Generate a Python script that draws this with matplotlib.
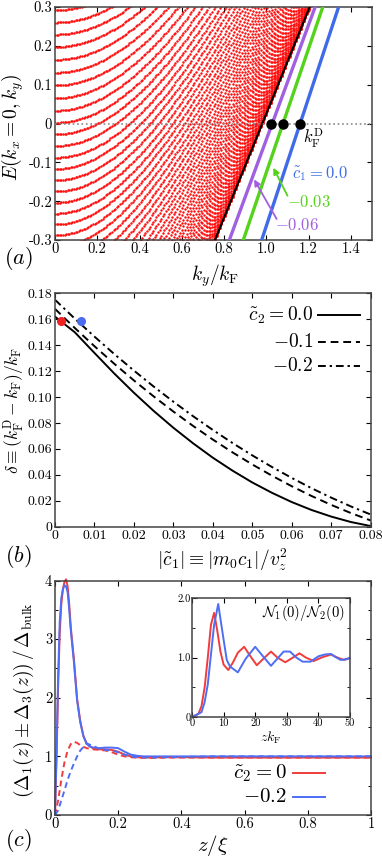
import numpy as np
import matplotlib
matplotlib.use('Agg')
import matplotlib.pyplot as plt
from matplotlib.ticker import MultipleLocator

plt.rcParams['mathtext.fontset'] = 'cm'
plt.rcParams['font.family'] = ['cmr10', 'DejaVu Serif']
plt.rcParams['axes.unicode_minus'] = False
plt.rcParams['axes.formatter.use_mathtext'] = True

# ---------------- panel (a) data ----------------
band_E0 = [0.292, 0.260, 0.229, 0.197, 0.164, 0.131, 0.098, 0.065, 0.033, 0.002,
           -0.028, -0.058, -0.088, -0.117, -0.146, -0.175, -0.204, -0.232, -0.260, -0.288,
           -0.316, -0.344, -0.372, -0.400, -0.428, -0.456, -0.484, -0.512, -0.540, -0.568,
           -0.596, -0.624, -0.652, -0.680, -0.708, -0.736, -0.764, -0.792, -0.820, -0.848,
           -0.876, -0.904, -0.932, -0.960, -0.988, -1.016, -1.044, -1.072, -1.100, -1.128,
           -1.156, -1.184, -1.212, -1.240, -1.268, -1.296]
band_velocity = 1.339
band_mu = 1.314
ky_samples = np.linspace(0.0, 1.5, 201)
edge_ky = [0.757, 1.205]
edge_E = [-0.3, 0.3]
surf_E = [-0.3, 0.3]
surf_labels = [r'$\tilde{c}_1=0.0$', r'$-0.03$', r'$-0.06$']
surf_ky = [[0.978, 1.342], [0.891, 1.267], [0.825, 1.231]]
surf_colors = ['#3f6be8', '#55d21c', '#a060e0']
dirac_kF = [1.02, 1.08, 1.16]
a_xticks = [0, 0.2, 0.4, 0.6, 0.8, 1.0, 1.2, 1.4]
a_xticklabels = ['0', '0.2', '0.4', '0.6', '0.8', '1.0', '1.2', '1.4']
a_yticks = [0.3, 0.2, 0.1, 0, -0.1, -0.2, -0.3]
a_yticklabels = ['0.3', '0.2', '0.1', '0', '-0.1', '-0.2', '-0.3']

# ---------------- panel (b) data ----------------
c1_abs = [0, 0.005, 0.01, 0.015, 0.02, 0.025, 0.03, 0.035, 0.04, 0.045, 0.05,
          0.055, 0.06, 0.065, 0.07, 0.075, 0.08]
delta_c2_00 = [0.162, 0.150, 0.134, 0.1182, 0.1033, 0.0893, 0.0763, 0.0643, 0.0532,
               0.0432, 0.0341, 0.0261, 0.0190, 0.0129, 0.0078, 0.0036, 0.0005]
delta_c2_01 = [0.168, 0.1533, 0.1392, 0.1257, 0.1128, 0.1005, 0.0888, 0.0777, 0.0672,
               0.0573, 0.0480, 0.0393, 0.0312, 0.0237, 0.0168, 0.0105, 0.0048]
delta_c2_02 = [0.175, 0.1605, 0.1466, 0.1332, 0.1204, 0.1081, 0.0964, 0.0852, 0.0746,
               0.0645, 0.0550, 0.0460, 0.0376, 0.0297, 0.0224, 0.0156, 0.0094]
b_dots_x = [0.0015, 0.0066]
b_dots_y = [0.159, 0.159]
b_dots_c = ['#ee2222', '#4a6cf0']
b_xticks = [0, 0.01, 0.02, 0.03, 0.04, 0.05, 0.06, 0.07, 0.08]
b_xticklabels = ['0', '0.01', '0.02', '0.03', '0.04', '0.05', '0.06', '0.07', '0.08']
b_yticks = [0, 0.02, 0.04, 0.06, 0.08, 0.10, 0.12, 0.14, 0.16, 0.18]
b_yticklabels = ['0', '0.02', '0.04', '0.06', '0.08', '0.10', '0.12', '0.14', '0.16', '0.18']
b_legend = [r'$\tilde{c}_2=0.0$', r'$-0.1$', r'$-0.2$']

# ---------------- panel (c) data ----------------
z_solid = [0, 0.005, 0.01, 0.015, 0.02, 0.025, 0.03, 0.035, 0.04, 0.045, 0.05, 0.06,
           0.07, 0.08, 0.09, 0.10, 0.11, 0.12, 0.14, 0.16, 0.18, 0.20, 0.22, 0.24,
           0.26, 0.28, 0.30, 0.35, 0.40, 0.50, 0.60, 0.70, 0.80, 0.90, 1.00]
sum_red = [0, 1.0, 2.2, 3.1, 3.6, 3.85, 3.98, 4.02, 3.9, 3.6, 3.2, 2.65, 1.98, 1.6,
           1.35, 1.22, 1.17, 1.14, 1.12, 1.12, 1.11, 1.08, 1.03, 1.0, 0.985, 0.98,
           0.98, 0.985, 0.985, 0.98, 0.98, 0.98, 0.98, 0.98, 0.98]
sum_blue = [0, 1.1, 2.4, 3.3, 3.7, 3.85, 3.92, 3.9, 3.8, 3.5, 3.15, 2.6, 1.95, 1.58,
            1.34, 1.22, 1.17, 1.15, 1.14, 1.15, 1.15, 1.14, 1.08, 1.03, 1.01, 1.0,
            1.0, 1.0, 1.0, 1.0, 1.0, 1.0, 1.0, 1.0, 1.0]
z_dash = [0, 0.01, 0.02, 0.03, 0.04, 0.05, 0.06, 0.07, 0.08, 0.10, 0.12, 0.14, 0.16,
          0.18, 0.20, 0.22, 0.25, 0.30, 0.35, 0.40, 0.50, 0.60, 0.70, 0.80, 0.90, 1.00]
diff_red = [0, 0.25, 0.6, 0.9, 1.1, 1.21, 1.25, 1.23, 1.19, 1.14, 1.12, 1.11, 1.1,
            1.07, 1.03, 1.0, 0.98, 0.975, 0.98, 0.98, 0.98, 0.98, 0.98, 0.98, 0.98, 0.98]
diff_blue = [0, 0.08, 0.25, 0.42, 0.6, 0.75, 0.88, 1.0, 1.1, 1.22, 1.18, 1.13, 1.11,
             1.1, 1.07, 1.03, 0.99, 0.98, 0.985, 0.99, 1.0, 1.0, 1.0, 1.0, 1.0, 1.0]
c_colors = ['#f03c3c', '#4d6ef5']
c_legend = [r'$\tilde{c}_2=0$', r'$-0.2$']
c_xticks = [0, 0.2, 0.4, 0.6, 0.8, 1.0]
c_xticklabels = ['0', '0.2', '0.4', '0.6', '0.8', '1']
c_yticks = [0, 1, 2, 3, 4]
c_yticklabels = ['0', '1', '2', '3', '4']

# inset
ins_x_red = [0, 2, 3, 4, 5, 6, 7, 8, 9, 10, 11.5, 13, 14.5, 16.5, 18.5, 20.5, 23, 25,
             27, 29.5, 32, 34, 36, 38.5, 41, 44, 46, 48, 50]
ins_y_red = [0, 0.05, 0.18, 0.5, 1.0, 1.55, 1.75, 1.45, 1.1, 0.88, 0.79, 0.92, 1.08,
             1.18, 1.02, 0.87, 1.0, 1.1, 1.0, 0.92, 1.0, 1.07, 1.0, 0.94, 1.0, 1.05,
             1.0, 0.96, 0.99]
ins_x_blue = [0, 3, 4, 5, 6, 7, 8.3, 9, 10, 11, 12, 14.5, 17, 20, 22, 25, 27, 29, 31,
              33, 35, 37.5, 40, 42, 44, 45, 47, 49, 50]
ins_y_blue = [0, 0.08, 0.25, 0.55, 1.05, 1.55, 1.9, 1.65, 1.3, 0.96, 0.85, 0.75, 0.98,
              1.18, 1.05, 0.86, 0.98, 1.1, 1.1, 1.0, 0.93, 0.93, 1.02, 1.05, 1.06,
              1.02, 0.96, 0.97, 1.0]
ins_xticks = [0, 10, 20, 30, 40, 50]
ins_xticklabels = ['0', '10', '20', '30', '40', '50']
ins_yticks = [0, 1.0, 2.0]
ins_yticklabels = ['0', '1.0', '2.0']

# ---------------- figure ----------------
W, H = 382, 860
fig = plt.figure(figsize=(W / 100, H / 100), dpi=100)


def rect(l, t, r, b):
    return [l / W, 1 - b / H, (r - l) / W, (b - t) / H]


spine_c = '#444444'


def style(ax, fs=10.5):
    for s in ax.spines.values():
        s.set_color(spine_c)
        s.set_linewidth(1.1)
    ax.tick_params(direction='in', top=True, right=True, length=3.5, width=0.8,
                   labelsize=fs, colors='black', pad=2)


# ---- (a)
axa = fig.add_axes(rect(55, 7, 372, 240))
for e0 in band_E0:
    E = np.sqrt((e0 + band_mu) ** 2 + (band_velocity * ky_samples) ** 2) - band_mu
    m = E <= 0.31
    axa.plot(ky_samples[m], E[m], ls='none', marker='o', ms=1.75, mew=0,
             color='#ff0d0d', zorder=2)
axa.plot(edge_ky, edge_E, color='black', lw=1.5, zorder=3)
for kys, c in zip(surf_ky, surf_colors):
    axa.plot(kys, surf_E, color=c, lw=2.4, zorder=3)
axa.axhline(0, color='#888888', ls=':', lw=1.2, zorder=4)
axa.plot(dirac_kF, [0] * len(dirac_kF), ls='none', marker='o', ms=6.5,
         color='black', zorder=5)
axa.set_xlim(0, 1.5)
axa.set_ylim(-0.3, 0.3)
axa.set_xticks(a_xticks)
axa.set_xticklabels(a_xticklabels)
axa.set_yticks(a_yticks)
axa.set_yticklabels(a_yticklabels)
style(axa)
axa.text(1.175, -0.038, r'$k_{\rm F}^{\rm D}$', fontsize=12, va='center', ha='left')
axa.text(1.12, -0.129, surf_labels[0], color=surf_colors[0], fontsize=12, va='center')
axa.text(1.10, -0.202, surf_labels[1], color=surf_colors[1], fontsize=12, va='center')
axa.text(1.04, -0.262, surf_labels[2], color=surf_colors[2], fontsize=12, va='center')
axa.annotate('', xy=(1.033, -0.114), xytext=(1.10, -0.186),
             arrowprops=dict(arrowstyle='-|>', color=surf_colors[1], lw=1.3,
                             mutation_scale=9, shrinkA=0, shrinkB=0))
axa.annotate('', xy=(0.942, -0.144), xytext=(1.049, -0.246),
             arrowprops=dict(arrowstyle='-|>', color=surf_colors[2], lw=1.3,
                             mutation_scale=9, shrinkA=0, shrinkB=0))
axa.set_xlabel(r'$k_y/k_{\rm F}$', fontsize=14)
axa.xaxis.set_label_coords(0.505, -0.095)
axa.set_ylabel(r'$E(k_x=0,k_y)$', fontsize=14)
axa.yaxis.set_label_coords(-0.09, 0.485)
fig.text(0.047, 1 - 258 / H, r'$(a)$', fontsize=16, ha='center', va='center')

# ---- (b)
axb = fig.add_axes(rect(55, 293.3, 370.7, 526.7))
axb.plot(c1_abs, delta_c2_00, color='black', lw=1.4, ls='-')
axb.plot(c1_abs, delta_c2_01, color='black', lw=1.4, ls=(0, (4, 2.5)))
axb.plot(c1_abs, delta_c2_02, color='black', lw=1.4, ls=(0, (4, 2, 1.2, 2)))
for x, y, c in zip(b_dots_x, b_dots_y, b_dots_c):
    axb.plot([x], [y], ls='none', marker='o', ms=5.5, color=c, zorder=5, clip_on=False)
axb.set_xlim(0, 0.08)
axb.set_ylim(0, 0.18)
axb.set_xticks(b_xticks)
axb.set_xticklabels(b_xticklabels)
axb.set_yticks(b_yticks)
axb.set_yticklabels(b_yticklabels)
style(axb, fs=10)
b_styles = ['-', (0, (4, 2.5)), (0, (4, 2, 1.2, 2))]
for i, (lab, st) in enumerate(zip(b_legend, b_styles)):
    yy = [0.907, 0.793, 0.688][i]
    axb.text(0.818, yy, lab, transform=axb.transAxes, ha='right', va='center', fontsize=14)
    axb.plot([0.833, 0.966], [yy, yy], transform=axb.transAxes, color='black', lw=1.4, ls=st)
axb.set_xlabel(r'$|\tilde{c}_1| \equiv |m_0 c_1|/v_z^2$', fontsize=14)
axb.xaxis.set_label_coords(0.53, -0.085)
axb.set_ylabel(r'$\delta \equiv (k_{\rm F}^{\rm D}-k_{\rm F})/k_{\rm F}$', fontsize=12.5)
axb.yaxis.set_label_coords(-0.088, 0.5)
fig.text(0.047, 1 - 557 / H, r'$(b)$', fontsize=16, ha='center', va='center')

# ---- (c)
axc = fig.add_axes(rect(55, 580.5, 371, 815))
axc.plot(z_solid, sum_red, color=c_colors[0], lw=1.4, clip_on=False)
axc.plot(z_solid, sum_blue, color=c_colors[1], lw=1.4, clip_on=False)
axc.plot(z_dash, diff_red, color=c_colors[0], lw=1.4, ls=(0, (3, 2)))
axc.plot(z_dash, diff_blue, color=c_colors[1], lw=1.4, ls=(0, (3, 2)))
axc.set_xlim(0, 1)
axc.set_ylim(0, 4)
axc.set_xticks(c_xticks)
axc.set_xticklabels(c_xticklabels)
axc.set_yticks(c_yticks)
axc.set_yticklabels(c_yticklabels)
axc.yaxis.set_minor_locator(MultipleLocator(0.5))
style(axc)
axc.tick_params(which='minor', direction='in', right=True, length=2.5, width=0.7)
for i, (lab, c) in enumerate(zip(c_legend, c_colors)):
    yy = [0.179, 0.077][i]
    axc.text(0.734, yy, lab, transform=axc.transAxes, ha='right', va='center', fontsize=15)
    axc.plot([0.753, 0.854], [yy, yy], transform=axc.transAxes, color=c, lw=1.4)
axc.set_xlabel(r'$z/\xi$', fontsize=15)
axc.xaxis.set_label_coords(0.5, -0.075)
axc.set_ylabel(r'$(\Delta_1(z)\pm\Delta_3(z))\,/\,\Delta_{\rm bulk}$', fontsize=14)
axc.yaxis.set_label_coords(-0.06, 0.49)
fig.text(0.047, 1 - 840 / H, r'$(c)$', fontsize=16, ha='center', va='center')

# inset
axi = fig.add_axes(rect(192, 598, 350, 717))
axi.plot(ins_x_red, ins_y_red, color=c_colors[0], lw=1.4)
axi.plot(ins_x_blue, ins_y_blue, color=c_colors[1], lw=1.4)
axi.set_xlim(0, 50)
axi.set_ylim(0, 2.0)
axi.set_xticks(ins_xticks)
axi.set_xticklabels(ins_xticklabels)
axi.set_yticks(ins_yticks)
axi.set_yticklabels(ins_yticklabels)
axi.yaxis.set_minor_locator(MultipleLocator(0.5))
style(axi, fs=7.5)
axi.tick_params(which='both', pad=1)
axi.tick_params(which='minor', direction='in', right=True, length=2, width=0.6)
axi.text(0.97, 0.88, r'$\mathcal{N}_1(0)/\mathcal{N}_2(0)$', transform=axi.transAxes,
         ha='right', va='center', fontsize=10.5)
axi.set_xlabel(r'$zk_{\rm F}$', fontsize=10, labelpad=1)

fig.savefig('out.png', dpi=100)
